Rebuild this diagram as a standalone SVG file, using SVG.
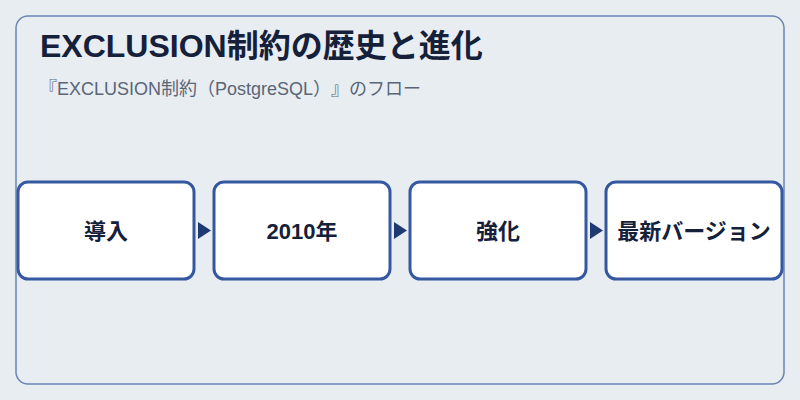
<svg xmlns="http://www.w3.org/2000/svg" width="800" height="400" viewBox="0 0 800 400">
  <style>
    text { text-spacing-trim: space-all; }
    .title { font-family: "Liberation Sans", "Noto Sans CJK JP", sans-serif; font-weight: 700; font-size: 32px; fill: #15203a; }
    .sub { font-family: "Liberation Sans", "Noto Sans CJK JP", sans-serif; font-size: 18px; fill: #5a6577; }
    .box { fill: #ffffff; stroke: #3558a0; stroke-width: 3; }
    .label { font-family: "Liberation Sans", "Noto Sans CJK JP", sans-serif; font-weight: 700; font-size: 22px; fill: #15203a; text-anchor: middle; dominant-baseline: central; }
    .arrow { fill: #1f3a72; }
  </style>
  <rect x="0" y="0" width="800" height="400" fill="#e8edf2"/>
  <rect x="16" y="16" width="768" height="368" rx="12" fill="#e8edf2" stroke="#6b84b4" stroke-width="1.5"/>
  <text class="title" x="40" y="57">EXCLUSION制約の歴史と進化</text>
  <text class="sub" x="39" y="95">『EXCLUSION制約（PostgreSQL）』のフロー</text>
  <g id="connectors">
    <polygon class="arrow" points="198,222 211,230.5 198,239"/>
    <polygon class="arrow" points="394,222 407,230.5 394,239"/>
    <polygon class="arrow" points="590,222 603,230.5 590,239"/>
  </g>
  <g id="node1">
    <rect class="box" x="18" y="182" width="176" height="97" rx="10"/>
    <text class="label" x="106" y="231">導入</text>
  </g>
  <g id="node2">
    <rect class="box" x="214" y="182" width="176" height="97" rx="10"/>
    <text class="label" x="302" y="231">2010年</text>
  </g>
  <g id="node3">
    <rect class="box" x="410" y="182" width="176" height="97" rx="10"/>
    <text class="label" x="498" y="231">強化</text>
  </g>
  <g id="node4">
    <rect class="box" x="606" y="182" width="176" height="97" rx="10"/>
    <text class="label" x="694" y="231">最新バージョン</text>
  </g>
</svg>
